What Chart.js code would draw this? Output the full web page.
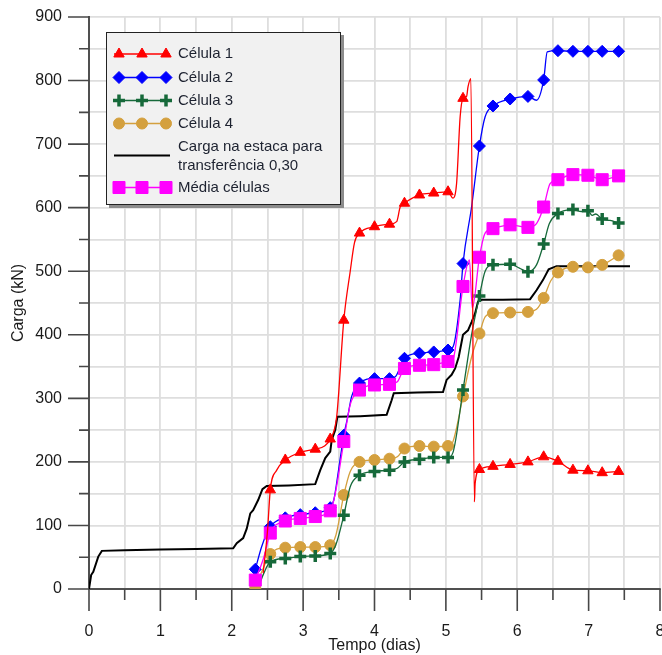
<!DOCTYPE html>
<html>
<head>
<meta charset="utf-8">
<script src="https://cdn.jsdelivr.net/npm/chart.js@4.4.1/dist/chart.umd.min.js"></script>
<style>
  html, body { margin: 0; padding: 0; background: #fff; }
  #wrap { width: 662px; height: 655px; }
</style>
</head>
<body>
<div id="wrap"><canvas id="myChart"></canvas></div>
<script>
// tempos (dias) em que aparecem os marcadores
const markT = [2.33, 2.54, 2.75, 2.96, 3.17, 3.38, 3.57, 3.79, 4.00, 4.21, 4.42, 4.63, 4.83, 5.03,
  5.24, 5.47, 5.66, 5.90, 6.15, 6.37, 6.57, 6.78, 6.99, 7.19, 7.42];

// Célula 1
const c1T = [2.44, 2.50, 2.54, 2.63, 2.75, 2.96, 3.17, 3.30, 3.38, 3.47, 3.57, 3.66, 3.72, 3.79, 4.00,
  4.21, 4.31, 4.36, 4.42, 4.63, 4.83, 5.03, 5.10, 5.15, 5.20, 5.24, 5.29, 5.31, 5.35, 5.40,
  5.41, 5.47, 5.66, 5.90, 6.15, 6.37, 6.57, 6.78, 6.99, 7.19, 7.42];
const c1V = [25, 90, 156, 187, 203, 215, 220, 225, 236, 271, 423, 500, 545, 560, 570,
  574, 578, 601, 607, 620, 623, 625, 615, 638, 743, 772, 775, 790, 803, 137,
  166, 188, 193, 196, 200, 208, 201, 187, 186, 183, 185];

// Célula 2
const c2T = [2.33, 2.42, 2.54, 2.75, 2.96, 3.17, 3.38, 3.43, 3.50, 3.57, 3.62, 3.68, 3.79, 4.00, 4.21,
  4.30, 4.42, 4.63, 4.83, 5.03, 5.10, 5.20, 5.24, 5.36, 5.47, 5.55, 5.66, 5.90, 6.15, 6.27,
  6.37, 6.42, 6.57, 6.78, 6.99, 7.19, 7.42];
const c2V = [31, 67, 98, 112, 117, 120, 128, 140, 190, 242, 268, 303, 324, 331, 331,
  335, 363, 371, 373, 376, 381, 455, 512, 601, 697, 743, 760, 771, 775, 769,
  801, 845, 847, 846, 846, 846, 846];

// Célula 3
const c3T = [2.38, 2.45, 2.54, 2.75, 2.96, 3.17, 3.38, 3.46, 3.57, 3.66, 3.79, 4.00, 4.21, 4.32, 4.42,
  4.63, 4.83, 5.03, 5.10, 5.24, 5.36, 5.47, 5.55, 5.66, 5.90, 6.03, 6.15, 6.27, 6.37, 6.45,
  6.57, 6.78, 6.90, 6.99, 7.05, 7.10, 7.19, 7.30, 7.42];
const c3V = [5, 25, 43, 48, 51, 52, 56, 70, 116, 161, 179, 185, 187, 190, 200,
  204, 207, 207, 215, 313, 400, 461, 500, 510, 511, 505, 499, 510, 543, 575,
  591, 597, 594, 595, 588, 590, 582, 580, 576];

// Célula 4
const c4T = [2.33, 2.45, 2.54, 2.75, 2.96, 3.17, 3.38, 3.46, 3.57, 3.66, 3.79, 4.00, 4.21, 4.32, 4.42,
  4.63, 4.83, 5.03, 5.10, 5.24, 5.36, 5.47, 5.55, 5.66, 5.90, 6.15, 6.27, 6.37, 6.47, 6.57,
  6.78, 6.99, 7.19, 7.42];
const c4V = [1, 35, 55, 65, 66, 66, 69, 85, 148, 185, 200, 203, 205, 208, 221,
  225, 224, 225, 232, 303, 365, 402, 428, 434, 435, 436, 440, 458, 485, 498,
  507, 506, 510, 525];

// Carga na estaca para transferência 0,30
const cargaT = [0, 0.03, 0.06, 0.13, 0.18, 0.5, 1.0, 1.5, 2.02, 2.07, 2.16, 2.21, 2.26, 2.30, 2.37,
  2.43, 2.49, 2.8, 3.17, 3.24, 3.31, 3.38, 3.40, 3.45, 3.48, 3.8, 4.17, 4.24, 4.27, 4.6,
  4.96, 5.01, 5.08, 5.13, 5.18, 5.24, 5.31, 5.36, 5.41, 5.45, 5.5, 5.8, 6.18, 6.27, 6.36,
  6.44, 6.55, 7.0, 7.58];
const cargaV = [0, 22, 27, 51, 60, 61, 62, 63, 64, 72, 80, 95, 119, 124, 140,
  157, 162, 163, 165, 187, 206, 216, 234, 250, 271, 272, 274, 297, 308, 309,
  310, 329, 337, 347, 365, 400, 407, 420, 434, 452, 455, 455, 456, 470, 486,
  503, 508, 508, 508];

// Média células
const mT = [2.33, 2.45, 2.54, 2.75, 2.96, 3.17, 3.38, 3.45, 3.57, 3.66, 3.79, 4.00, 4.21, 4.32, 4.42,
  4.63, 4.83, 5.03, 5.10, 5.24, 5.33, 5.37, 5.47, 5.55, 5.66, 5.90, 6.15, 6.27, 6.37, 6.46,
  6.57, 6.78, 6.99, 7.19, 7.42];
const mV = [14, 50, 88, 107, 111, 114, 123, 150, 232, 290, 313, 321, 322, 326, 347,
  352, 353, 358, 362, 476, 518, 442, 522, 560, 567, 573, 569, 575, 601, 638,
  644, 652, 651, 644, 650];

const pts = (t, v) => t.map((x, i) => ({ x: x, y: v[i] }));
const markR = (r) => (ctx) => (ctx.raw && markT.includes(ctx.raw.x) ? r : 0);

function serie(label, t, v, color, style, r, bw, order) {
  return {
    label: label,
    data: pts(t, v),
    borderColor: color,
    backgroundColor: color,
    borderWidth: 1.3,
    pointStyle: style,
    pointRadius: markR(r),
    legendRadius: r,
    pointHoverRadius: 0,
    pointBorderWidth: bw,
    cubicInterpolationMode: "monotone",
    order: order,
  };
}

const datasets = [
  serie("Célula 1", c1T, c1V, "#ff0000", "triangle", 6, 1, 0),
  serie("Célula 2", c2T, c2V, "#0000ff", "rectRot", 6, 1, 2),
  serie("Célula 3", c3T, c3V, "#16693a", "cross", 6, 3.5, 3),
  serie("Célula 4", c4T, c4V, "#d4a03e", "circle", 5.5, 1, 4),
  {
    label: "Carga na estaca para\ntransferência 0,30",
    data: pts(cargaT, cargaV),
    borderColor: "#000000",
    backgroundColor: "#000000",
    borderWidth: 2,
    pointRadius: 0,
    tension: 0,
    order: 5,
  },
  serie("Média células", mT, mV, "#ff00ff", "rect", 8.5, 1, 1),
];

// área do gráfico vai até a borda direita (o "8" fica cortado)
const fixArea = {
  id: "fixArea",
  afterLayout(chart) {
    const xs = chart.scales.x;
    const R = 660;
    xs.right = R;
    xs.width = R - xs.left;
    xs.configure();
    chart.chartArea.right = R;
    chart.chartArea.width = R - chart.chartArea.left;
  },
};

// marcas dos eixos (principais e secundárias)
const axisTicks = {
  id: "axisTicks",
  afterDraw(chart) {
    const ctx = chart.ctx;
    const xs = chart.scales.x, ys = chart.scales.y;
    ctx.save();
    ctx.strokeStyle = "#474747";
    ctx.lineWidth = 1.6;
    ctx.beginPath();
    xs.ticks.forEach((t) => {
      const px = xs.getPixelForValue(t.value);
      const len = t.value % 1 === 0 ? 22 : 11;
      ctx.moveTo(px, ys.bottom);
      ctx.lineTo(px, ys.bottom + len);
    });
    ys.ticks.forEach((t) => {
      const py = ys.getPixelForValue(t.value);
      const len = t.value % 100 === 0 ? 21 : 10;
      ctx.moveTo(xs.left, py);
      ctx.lineTo(xs.left - len, py);
    });
    ctx.stroke();
    ctx.restore();
  },
};

// legenda em caixa dentro do gráfico
const boxLegend = {
  id: "boxLegend",
  afterDatasetsDraw(chart) {
    const ctx = chart.ctx;
    const rows = [54, 77.5, 100.5, 123.5, 155.5, 187.5];
    ctx.save();
    ctx.fillStyle = "#8c8c8c";
    ctx.fillRect(109, 35, 235, 173);
    ctx.fillStyle = "#f1f1f1";
    ctx.fillRect(106, 32, 235, 173);
    ctx.strokeStyle = "#222";
    ctx.lineWidth = 1;
    ctx.strokeRect(106.5, 32.5, 234, 172);

    chart.data.datasets.forEach((ds, i) => {
      const y = rows[i];
      ctx.strokeStyle = ds.borderColor;
      ctx.fillStyle = ds.backgroundColor;
      ctx.lineWidth = ds.borderWidth;
      ctx.beginPath();
      ctx.moveTo(114, y);
      ctx.lineTo(170, y);
      ctx.stroke();
      if (ds.pointStyle) {
        [119, 142, 166].forEach((mx) => {
          ctx.lineWidth = ds.pointBorderWidth;
          Chart.helpers.drawPoint(ctx, {
            pointStyle: ds.pointStyle,
            radius: ds.legendRadius,
            borderWidth: ds.pointBorderWidth,
            rotation: 0,
          }, mx, y);
        });
      }
      ctx.fillStyle = "#1d2230";
      ctx.font = "15px 'Liberation Sans', Arial, sans-serif";
      ctx.textBaseline = "middle";
      const lines = ds.label.split("\n");
      if (lines.length === 1) {
        ctx.fillText(lines[0], 178, y);
      } else {
        ctx.fillText(lines[0], 178, y - 9);
        ctx.fillText(lines[1], 178, y + 10);
      }
    });
    ctx.restore();
  },
};

const tickFont = { family: "'Liberation Sans', Arial, sans-serif", size: 16 };

const config = {
  type: "line",
  data: { datasets: datasets },
  options: {
    responsive: true,
    maintainAspectRatio: false,
    animation: false,
    layout: { padding: { top: 17, right: 2, left: 0, bottom: 0 } },
    plugins: {
      legend: { display: false },
      tooltip: { enabled: false },
    },
    scales: {
      x: {
        type: "linear",
        min: 0,
        max: 8,
        grid: { color: "#dedede", lineWidth: 1.8, drawTicks: false },
        border: { color: "#505050", width: 2 },
        ticks: {
          stepSize: 0.5,
          autoSkip: false,
          maxRotation: 0,
          padding: 33,
          color: "#1a1a1a",
          font: tickFont,
          callback: (v) => (v % 1 === 0 ? v : ""),
        },
        title: {
          display: true,
          text: "Tempo (dias)",
          color: "#1a1a1a",
          font: { family: "'Liberation Sans', Arial, sans-serif", size: 16 },
          padding: { top: 0, bottom: 0 },
        },
        afterFit(scale) {
          scale.height = 66;
          scale.paddingLeft = 0;
          scale.paddingRight = 0;
        },
      },
      y: {
        min: 0,
        max: 900,
        grid: { color: "#dedede", lineWidth: 1.8, drawTicks: false },
        border: { color: "#505050", width: 2 },
        ticks: {
          stepSize: 50,
          autoSkip: false,
          padding: 27,
          color: "#1a1a1a",
          font: tickFont,
          callback: (v) => (v % 100 === 0 ? v : ""),
        },
        title: {
          display: true,
          text: "Carga (kN)",
          color: "#1a1a1a",
          font: { family: "'Liberation Sans', Arial, sans-serif", size: 16 },
          padding: { top: 9, bottom: 0 },
        },
        afterFit(scale) {
          scale.width = 89;
          scale.paddingTop = 0;
          scale.paddingBottom = 0;
        },
      },
    },
  },
  plugins: [fixArea, axisTicks, boxLegend],
};

const myChart = new Chart(document.querySelector("#myChart"), config);
</script>
</body>
</html>
